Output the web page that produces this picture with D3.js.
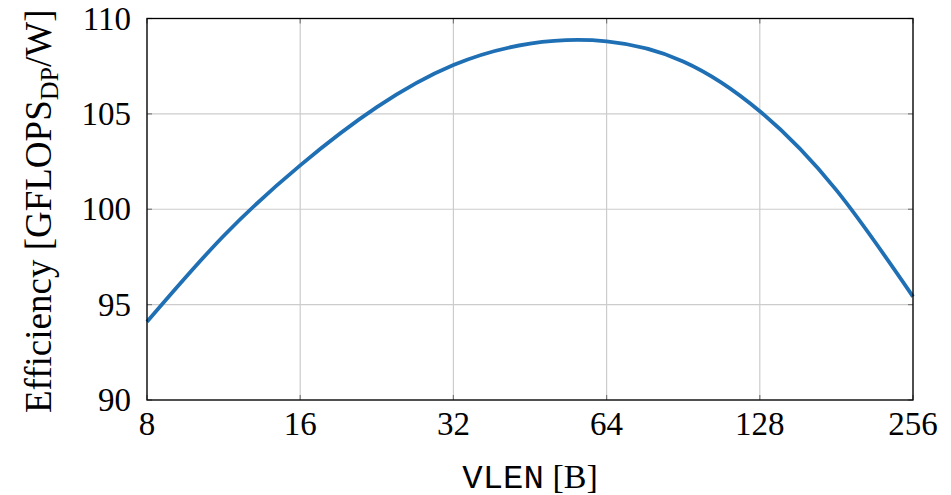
<!DOCTYPE html>
<html>
<head>
<meta charset="utf-8">
<script src="https://cdn.jsdelivr.net/npm/d3@7"></script>
<style>
  body { margin: 0; background: #fff; }
  text { font-family: "Liberation Serif", serif; fill: #000; }
</style>
</head>
<body>
<script>
// VLEN in bytes, efficiency in GFLOPS_DP/W
var vlen = [8, 11.31, 16, 22.63, 32, 45.25, 64, 90.5, 128, 181, 256];
var efficiency = [94.1, 98.6, 102.3, 105.35, 107.56, 108.68, 108.8, 107.75, 105.14, 101.0, 95.42];
var xTicks = [8, 16, 32, 64, 128, 256];
var yTicks = [90, 95, 100, 105, 110];

var width = 951, height = 495;
// plot box (note: "top" is reserved on window, so use plot* names)
var plotLeft = 147, plotRight = 913, plotTop = 18.5, plotBottom = 400;

var svg = d3.select("body").append("svg")
    .attr("width", width)
    .attr("height", height);

var x = d3.scaleLog().base(2).domain([8, 256]).range([plotLeft, plotRight]);
var y = d3.scaleLinear().domain([90, 110]).range([plotBottom, plotTop]);

// grid
svg.append("g").selectAll("line")
    .data(xTicks)
    .enter().append("line")
    .attr("x1", d => x(d)).attr("x2", d => x(d))
    .attr("y1", plotTop).attr("y2", plotBottom)
    .attr("stroke", "#cccccc").attr("stroke-width", 1.2);

svg.append("g").selectAll("line")
    .data(yTicks)
    .enter().append("line")
    .attr("x1", plotLeft).attr("x2", plotRight)
    .attr("y1", d => y(d)).attr("y2", d => y(d))
    .attr("stroke", "#cccccc").attr("stroke-width", 1.2);

// small tick marks on all four sides
var tickLen = 5;
var marks = svg.append("g").attr("stroke", "#7a7a7a").attr("stroke-width", 1.2);
xTicks.forEach(function (d) {
    marks.append("line").attr("x1", x(d)).attr("x2", x(d)).attr("y1", plotBottom).attr("y2", plotBottom - tickLen);
    marks.append("line").attr("x1", x(d)).attr("x2", x(d)).attr("y1", plotTop).attr("y2", plotTop + tickLen);
});
yTicks.forEach(function (d) {
    marks.append("line").attr("x1", plotLeft).attr("x2", plotLeft + tickLen).attr("y1", y(d)).attr("y2", y(d));
    marks.append("line").attr("x1", plotRight).attr("x2", plotRight - tickLen).attr("y1", y(d)).attr("y2", y(d));
});

// curve (points are evenly spaced in log2, so a natural spline stays smooth)
var line = d3.line()
    .x((d, i) => x(vlen[i]))
    .y(d => y(d))
    .curve(d3.curveNatural);

svg.append("path")
    .datum(efficiency)
    .attr("d", line)
    .attr("fill", "none")
    .attr("stroke", "#1f6fb4")
    .attr("stroke-width", 3.8)
    .attr("stroke-linejoin", "round");

// frame
svg.append("rect")
    .attr("x", plotLeft).attr("y", plotTop)
    .attr("width", plotRight - plotLeft).attr("height", plotBottom - plotTop)
    .attr("fill", "none")
    .attr("stroke", "#000")
    .attr("stroke-width", 1.3);

// tick labels
svg.append("g").selectAll("text")
    .data(xTicks)
    .enter().append("text")
    .attr("x", d => x(d))
    .attr("y", 435)
    .attr("text-anchor", "middle")
    .style("font-size", "33px")
    .text(d => d);

svg.append("g").selectAll("text")
    .data(yTicks)
    .enter().append("text")
    .attr("x", 131)
    .attr("y", d => y(d) + 11)
    .attr("text-anchor", "end")
    .style("font-size", "33px")
    .text(d => d);

// x label
var xl = svg.append("text")
    .attr("x", (plotLeft + plotRight) / 2)
    .attr("y", 488)
    .attr("text-anchor", "middle")
    .style("font-size", "34px");
xl.append("tspan").style("font-family", "'Liberation Mono', 'DejaVu Sans Mono', monospace").text("VLEN");
xl.append("tspan").text(" [B]");

// y label
var yl = svg.append("text")
    .attr("transform", "translate(51," + ((plotTop + plotBottom) / 2 + 2) + ") rotate(-90)")
    .attr("text-anchor", "middle")
    .style("font-size", "37px");
yl.append("tspan").text("Efficiency [GFLOPS");
yl.append("tspan").attr("dy", 7).style("font-size", "26px").text("DP");
yl.append("tspan").attr("dy", -7).text("/W]");
</script>
</body>
</html>
